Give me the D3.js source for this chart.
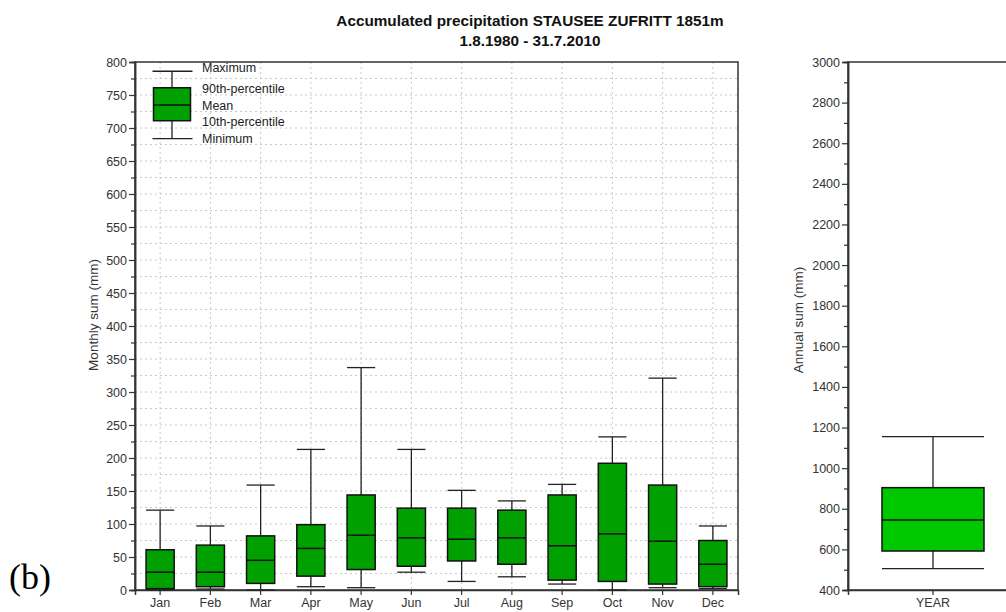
<!DOCTYPE html>
<html>
<head>
<meta charset="utf-8">
<script src="https://cdn.jsdelivr.net/npm/d3@7"></script>
<style>
  body { margin: 0; background: #fff; }
  text { font-family: "Liberation Sans", Arial, sans-serif; }
</style>
</head>
<body>
<div id="canvas"></div>
<script>
"use strict"

/* Data */
let months = ["Jan", "Feb", "Mar", "Apr", "May", "Jun", "Jul", "Aug", "Sep", "Oct", "Nov", "Dec"];
let monthMax = [121, 97, 159, 213, 337, 213, 151, 135, 160, 232, 321, 97];
let monthP90 = [61, 68, 82, 99, 144, 124, 124, 121, 144, 192, 159, 75];
let monthMean = [27, 27, 45, 63, 83, 79, 77, 79, 67, 85, 74, 39];
let monthP10 = [2, 5, 10, 21, 31, 36, 44, 39, 15, 13, 9, 5];
let monthMin = [0, 1.5, 0, 5, 3.5, 27, 13, 20, 9, 0, 3.5, 2];

let yearLabel = ["YEAR"];
let yearMax = [1155];
let yearP90 = [904];
let yearMean = [745];
let yearP10 = [592];
let yearMin = [505];

let legendLabels = ["Maximum", "90th-percentile", "Mean", "10th-percentile", "Minimum"];

/* Drawing config */
let svgWidth = 1006;
let svgHeight = 612;
let plotTop = 62;
let plotBottom = 590;

let svg = d3.select("#canvas")
    .append("svg")
    .attr("width", svgWidth)
    .attr("height", svgHeight);

/* Title */
svg.append("text")
    .attr("x", 530)
    .attr("y", 26)
    .attr("text-anchor", "middle")
    .style("font-size", "15.3px")
    .style("font-weight", "bold")
    .attr("fill", "#111")
    .text("Accumulated precipitation STAUSEE ZUFRITT 1851m");

svg.append("text")
    .attr("x", 530)
    .attr("y", 46)
    .attr("text-anchor", "middle")
    .style("font-size", "15.3px")
    .style("font-weight", "bold")
    .attr("fill", "#111")
    .text("1.8.1980 - 31.7.2010");

/* Panel label */
svg.append("text")
    .attr("x", 9)
    .attr("y", 589)
    .style("font-family", "'Liberation Serif', 'Times New Roman', serif")
    .style("font-size", "36px")
    .text("(b)");

function makeData(labels, mx, p90, mean, p10, mn) {
    return labels.map(function (d, i) {
        return { label: d, max: mx[i], p90: p90[i], mean: mean[i], p10: p10[i], min: mn[i] };
    });
}

function drawBoxes(g, data, x, y, fill, boxFrac) {
    let bw = x.bandwidth() * boxFrac;
    let groups = g.selectAll("g.box")
        .data(data)
        .join("g")
        .attr("class", "box")
        .attr("transform", d => "translate(" + (x(d.label) + x.bandwidth() / 2) + ",0)");

    // whiskers
    groups.append("line")
        .attr("x1", 0).attr("x2", 0)
        .attr("y1", d => y(d.max)).attr("y2", d => y(d.p90))
        .attr("stroke", "#222").attr("stroke-width", 1.3);
    groups.append("line")
        .attr("x1", 0).attr("x2", 0)
        .attr("y1", d => y(d.p10)).attr("y2", d => y(d.min))
        .attr("stroke", "#222").attr("stroke-width", 1.3);
    // caps
    groups.append("line")
        .attr("x1", -bw / 2).attr("x2", bw / 2)
        .attr("y1", d => y(d.max)).attr("y2", d => y(d.max))
        .attr("stroke", "#222").attr("stroke-width", 1.3);
    groups.append("line")
        .attr("x1", -bw / 2).attr("x2", bw / 2)
        .attr("y1", d => y(d.min)).attr("y2", d => y(d.min))
        .attr("stroke", "#222").attr("stroke-width", 1.3);
    // box
    groups.append("rect")
        .attr("x", -bw / 2)
        .attr("width", bw)
        .attr("y", d => y(d.p90))
        .attr("height", d => y(d.p10) - y(d.p90))
        .attr("fill", fill)
        .attr("stroke", "#111")
        .attr("stroke-width", 1.5);
    groups.append("line")
        .attr("x1", -bw / 2).attr("x2", bw / 2)
        .attr("y1", d => y(d.mean)).attr("y2", d => y(d.mean))
        .attr("stroke", "#111").attr("stroke-width", 1.5);
}

function styleAxis(g) {
    g.selectAll("text")
        .style("font-size", "12.5px")
        .style("font-family", "'Liberation Sans', Arial, sans-serif")
        .attr("fill", "#333");
    g.selectAll(".domain").attr("stroke", "#333").attr("stroke-width", 1.5);
    g.selectAll(".tick line").attr("stroke", "#333").attr("stroke-width", 1.2);
}

/**** Monthly panel ****/
let left1 = 135;
let right1 = 738;

let xMonth = d3.scaleBand()
    .domain(months)
    .range([left1, right1])
    .padding(0);

let yMonth = d3.scaleLinear()
    .domain([0, 800])
    .range([plotBottom, plotTop]);

let g1 = svg.append("g");

// grid
g1.selectAll("line.hgrid")
    .data(d3.range(25, 800, 25))
    .join("line")
    .attr("class", "hgrid")
    .attr("x1", left1).attr("x2", right1)
    .attr("y1", d => yMonth(d)).attr("y2", d => yMonth(d))
    .attr("stroke", "#c8c8c8")
    .attr("stroke-dasharray", "2,3");

g1.selectAll("line.vgrid")
    .data(months)
    .join("line")
    .attr("class", "vgrid")
    .attr("x1", d => xMonth(d) + xMonth.bandwidth() / 2)
    .attr("x2", d => xMonth(d) + xMonth.bandwidth() / 2)
    .attr("y1", plotTop).attr("y2", plotBottom)
    .attr("stroke", "#c8c8c8")
    .attr("stroke-dasharray", "2,3");

// frame
g1.append("rect")
    .attr("x", left1).attr("y", plotTop)
    .attr("width", right1 - left1).attr("height", plotBottom - plotTop)
    .attr("fill", "none")
    .attr("stroke", "#333")
    .attr("stroke-width", 1.5);

// axes
let yAxis1 = g1.append("g")
    .attr("transform", "translate(" + left1 + ",0)")
    .call(d3.axisLeft(yMonth).tickValues(d3.range(0, 801, 50)).tickFormat(d3.format("d")).tickSize(6).tickPadding(2));
let yMinor1 = g1.append("g")
    .attr("transform", "translate(" + left1 + ",0)")
    .call(d3.axisLeft(yMonth).tickValues(d3.range(25, 800, 50)).tickSize(4).tickFormat(""));

let xAxis1 = g1.append("g")
    .attr("transform", "translate(0," + plotBottom + ")")
    .call(d3.axisBottom(xMonth).tickSize(5).tickPadding(3));

[yAxis1, yMinor1, xAxis1].forEach(styleAxis);

svg.append("text")
    .attr("x", -315)
    .attr("y", 98)
    .attr("transform", "rotate(-90)")
    .attr("text-anchor", "middle")
    .style("font-size", "13.5px")
    .attr("fill", "#333")
    .text("Monthly sum (mm)");

drawBoxes(g1, makeData(months, monthMax, monthP90, monthMean, monthP10, monthMin), xMonth, yMonth, "#00a000", 0.56);

/* Legend */
let legX = 172;
let legVals = [786, 761, 735, 711, 684];
let legBw = 37;
let lg = g1.append("g");
lg.append("line")
    .attr("x1", legX).attr("x2", legX)
    .attr("y1", yMonth(legVals[0])).attr("y2", yMonth(legVals[4]))
    .attr("stroke", "#222").attr("stroke-width", 1.3);
lg.selectAll("line.cap")
    .data([legVals[0], legVals[4]])
    .join("line")
    .attr("class", "cap")
    .attr("x1", legX - legBw / 2 - 1).attr("x2", legX + legBw / 2 + 2)
    .attr("y1", d => yMonth(d)).attr("y2", d => yMonth(d))
    .attr("stroke", "#222").attr("stroke-width", 1.3);
lg.append("rect")
    .attr("x", legX - legBw / 2)
    .attr("width", legBw)
    .attr("y", yMonth(legVals[1]))
    .attr("height", yMonth(legVals[3]) - yMonth(legVals[1]))
    .attr("fill", "#00a000")
    .attr("stroke", "#111")
    .attr("stroke-width", 1.5);
lg.append("line")
    .attr("x1", legX - legBw / 2).attr("x2", legX + legBw / 2)
    .attr("y1", yMonth(legVals[2])).attr("y2", yMonth(legVals[2]))
    .attr("stroke", "#111").attr("stroke-width", 1.5);
let legTextY = [69, 90, 107, 123, 140];
lg.selectAll("text")
    .data(legendLabels)
    .join("text")
    .attr("x", 202)
    .attr("y", (d, i) => legTextY[i])
    .attr("dominant-baseline", "middle")
    .style("font-size", "12.5px")
    .attr("fill", "#222")
    .text(d => d);

/**** Annual panel ****/
let left2 = 848;
let right2 = 1018;

let xYear = d3.scaleBand()
    .domain(yearLabel)
    .range([left2, right2]);

let yYear = d3.scaleLinear()
    .domain([400, 3000])
    .range([plotBottom, plotTop]);

let g2 = svg.append("g");

g2.append("rect")
    .attr("x", left2).attr("y", plotTop)
    .attr("width", right2 - left2).attr("height", plotBottom - plotTop)
    .attr("fill", "none")
    .attr("stroke", "#333")
    .attr("stroke-width", 1.5);

let yAxis2 = g2.append("g")
    .attr("transform", "translate(" + left2 + ",0)")
    .call(d3.axisLeft(yYear).tickValues(d3.range(400, 3001, 200)).tickFormat(d3.format("d")).tickSize(6).tickPadding(2));
let yMinor2 = g2.append("g")
    .attr("transform", "translate(" + left2 + ",0)")
    .call(d3.axisLeft(yYear).tickValues(d3.range(500, 3000, 200)).tickSize(4).tickFormat(""));
let xAxis2 = g2.append("g")
    .attr("transform", "translate(0," + plotBottom + ")")
    .call(d3.axisBottom(xYear).tickSize(5).tickPadding(3));

[yAxis2, yMinor2, xAxis2].forEach(styleAxis);

svg.append("text")
    .attr("x", -320)
    .attr("y", 803)
    .attr("transform", "rotate(-90)")
    .attr("text-anchor", "middle")
    .style("font-size", "13.5px")
    .attr("fill", "#333")
    .text("Annual sum (mm)");

drawBoxes(g2, makeData(yearLabel, yearMax, yearP90, yearMean, yearP10, yearMin), xYear, yYear, "#00c800", 0.6);
</script>
</body>
</html>
